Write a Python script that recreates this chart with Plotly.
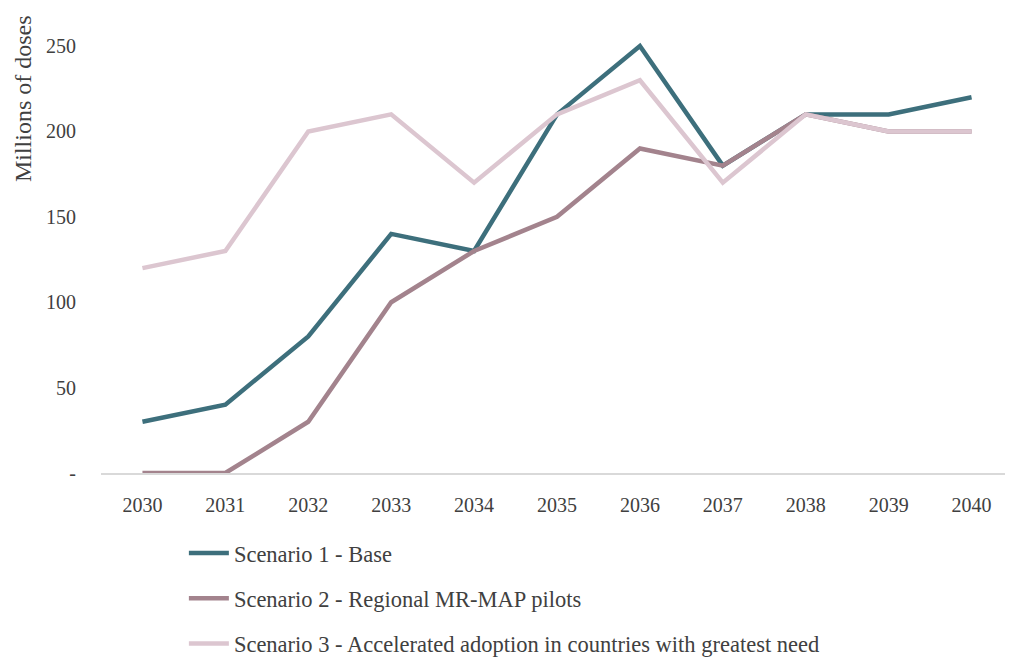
import plotly.graph_objects as go

years = ["2030", "2031", "2032", "2033", "2034", "2035", "2036", "2037", "2038", "2039", "2040"]
base = [30, 40, 80, 140, 130, 210, 250, 180, 210, 210, 220]
regional = [0, 0, 30, 100, 130, 150, 190, 180, 210, 200, 200]
accelerated = [120, 130, 200, 210, 170, 210, 230, 170, 210, 200, 200]

names = [
    "Scenario 1 - Base",
    "Scenario 2 - Regional MR-MAP pilots",
    "Scenario 3 - Accelerated adoption in countries with greatest need",
]
colors = ["#3d6f7c", "#a3838d", "#dcc6d0"]
series = [base, regional, accelerated]

font = "Liberation Serif, DejaVu Serif, serif"

fig = go.Figure()
for i, (name, vals, col) in enumerate(zip(names, series, colors)):
    fig.add_trace(
        go.Scatter(
            x=years,
            y=vals,
            name=name,
            mode="lines",
            line=dict(color=col, width=4.5),
            legendgroup=f"g{i}",
        )
    )

# page body has an 8px margin, so the figure is a bit smaller than the window
fig.update_layout(
    width=1005,
    height=652,
    margin=dict(l=93, r=0, t=21, b=187, autoexpand=False),
    plot_bgcolor="white",
    paper_bgcolor="white",
    font=dict(family=font, size=20, color="#404040"),
    showlegend=True,
    legend=dict(
        xref="container",
        yref="container",
        x=0.175,
        y=0.1965,
        xanchor="left",
        yanchor="top",
        orientation="v",
        tracegroupgap=13,
        font=dict(family=font, size=22.5, color="#404040"),
        itemwidth=40,
    ),
    annotations=[
        dict(
            text="Millions of doses",
            textangle=-90,
            xref="paper",
            yref="paper",
            x=-0.086,
            y=1.036,
            xanchor="center",
            yanchor="top",
            showarrow=False,
            font=dict(family=font, size=24, color="#404040"),
        )
    ],
)

fig.update_xaxes(
    type="category",
    range=[-0.5, 10.5],
    showgrid=False,
    showline=True,
    linecolor="#d9d9d9",
    linewidth=1.5,
    ticks="",
    tickfont=dict(size=20),
    ticklabelstandoff=13,
)
fig.update_yaxes(
    range=[0, 260],
    tickvals=[0, 50, 100, 150, 200, 250],
    ticktext=["-", "50", "100", "150", "200", "250"],
    showgrid=False,
    zeroline=False,
    showline=False,
    tickfont=dict(size=20),
    ticklabelstandoff=24,
)

fig.write_html("out.html")
